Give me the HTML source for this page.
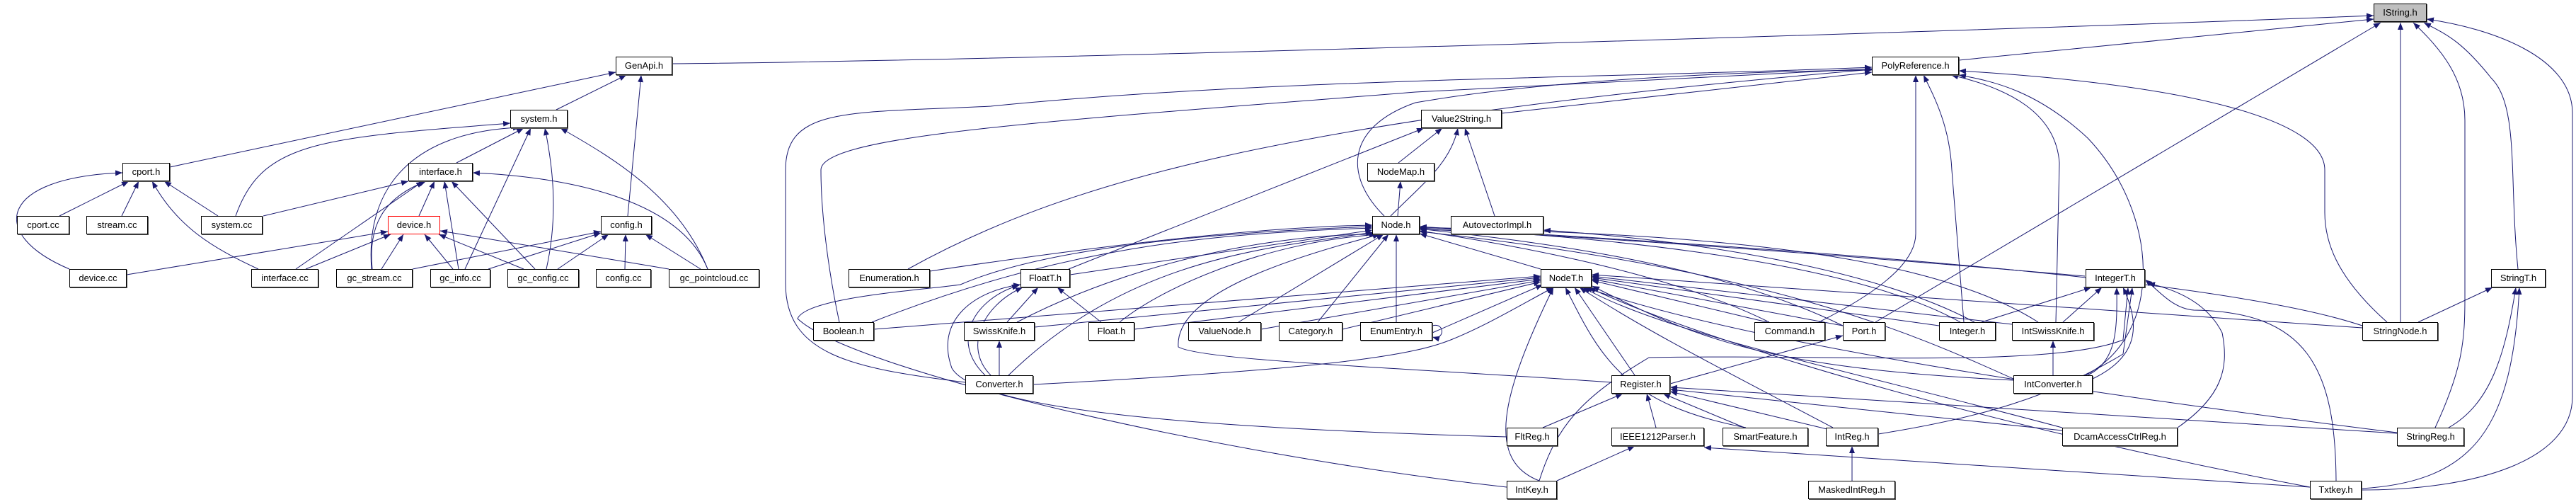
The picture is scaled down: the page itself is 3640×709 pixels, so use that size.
<!DOCTYPE html>
<html><head><meta charset="utf-8"><style>
html,body{margin:0;padding:0;background:#fff;}
#w{position:relative;width:3640px;height:709px;overflow:hidden;background:#fff;}
svg{position:absolute;left:0;top:0;}
.n{position:absolute;height:24px;border:1px solid #000;box-shadow:1px 1px 0 #555;background:#fff;font-family:"Liberation Sans","DejaVu Sans",sans-serif;font-size:13px;line-height:24px;text-align:center;white-space:nowrap;color:#000;}
</style></head><body><div id="w">
<svg width="3640" height="709" viewBox="0 0 3640 709">
<defs><marker id="a" markerUnits="userSpaceOnUse" markerWidth="11" markerHeight="8" refX="10" refY="4" orient="auto"><path d="M0,0 L10,4 L0,8 z" fill="#191970"/></marker></defs>
<g fill="none" stroke="#191970" stroke-width="1" marker-end="url(#a)">
<path d="M950,90 C1500,85 2900,40 3354,22"/>
<path d="M240,236 L870,102"/>
<path d="M786,155 L885,106"/>
<path d="M887,305 L906,106"/>
<path d="M333,305 C370,200 450,195 721,174"/>
<path d="M525,380 C515,250 600,185 735,180"/>
<path d="M645,230 L740,181"/>
<path d="M657,380 L750,181"/>
<path d="M772,380 C790,300 780,230 770,181"/>
<path d="M1000,380 C960,280 870,225 792,181"/>
<path d="M84,305 L182,256"/>
<path d="M172,305 L196,256"/>
<path d="M308,305 L232,256"/>
<path d="M365,380 C300,350 250,320 215,256"/>
<path d="M98,380 C-20,330 0,250 173,244"/>
<path d="M372,305 L577,256"/>
<path d="M418,380 L598,256"/>
<path d="M526,380 C520,320 540,280 602,256"/>
<path d="M592,305 L614,256"/>
<path d="M648,380 L628,256"/>
<path d="M756,380 L638,256"/>
<path d="M1000,380 C960,280 800,250 668,244"/>
<path d="M179,388 L548,327"/>
<path d="M432,380 L552,331"/>
<path d="M539,380 L570,331"/>
<path d="M640,380 L600,331"/>
<path d="M740,380 L620,331"/>
<path d="M945,380 L622,326"/>
<path d="M583,380 L849,327"/>
<path d="M690,380 L849,329"/>
<path d="M788,380 L860,331"/>
<path d="M883,380 L884,331"/>
<path d="M990,380 L912,331"/>
<path d="M2768,85 L3354,27"/>
<path d="M1364,540 C1200,520 1110,500 1110,400 L1110,240 C1110,150 1200,160 1400,150 C1800,110 2300,110 2645,95"/>
<path d="M1186,455 C1170,380 1160,300 1160,240 C1160,190 1500,170 2000,130 L2645,97"/>
<path d="M1283,380 C1500,260 1800,170 2645,98"/>
<path d="M1956,305 C1900,250 1900,180 2000,145 C2200,110 2500,100 2645,99"/>
<path d="M2122,160 L2645,102"/>
<path d="M2570,455 C2680,400 2707,360 2707,330 L2707,106"/>
<path d="M2775,455 L2758,240 C2755,180 2735,140 2718,106"/>
<path d="M2905,455 L2910,230 C2905,160 2840,125 2757,106"/>
<path d="M2947,530 C3060,470 3050,300 2950,195 C2880,130 2820,115 2768,106"/>
<path d="M3373,455 C3300,390 3285,340 3285,300 L3285,240 C3285,170 3100,120 2768,100"/>
<path d="M2650,455 L3364,32"/>
<path d="M1510,380 L2012,181"/>
<path d="M1976,230 L2038,181"/>
<path d="M1965,305 C2010,260 2050,230 2060,181"/>
<path d="M2112,305 L2070,181"/>
<path d="M1975,305 L1979,256"/>
<path d="M1314,383 C1600,340 1800,320 1939,318"/>
<path d="M1232,455 C1500,350 1700,330 1939,322"/>
<path d="M1437,455 C1600,370 1800,330 1945,331"/>
<path d="M1582,455 C1650,400 1800,340 1950,331"/>
<path d="M1512,388 L1939,325"/>
<path d="M1750,455 L1955,331"/>
<path d="M1862,455 L1962,331"/>
<path d="M1973,455 L1973,331"/>
<path d="M1425,530 C1600,360 1800,350 1940,328"/>
<path d="M2177,380 L2006,330"/>
<path d="M2500,455 C2350,380 2100,340 2006,326"/>
<path d="M2604,460 C2400,360 2100,335 2006,323"/>
<path d="M2770,455 C2600,360 2200,330 2006,322"/>
<path d="M2880,455 C2700,340 2300,330 2006,321"/>
<path d="M2946,390 C2600,360 2200,330 2006,324"/>
<path d="M3338,460 C3100,380 2300,340 2006,320"/>
<path d="M2845,535 C2700,470 2500,380 2006,327"/>
<path d="M2277,540 C2000,520 1700,510 1665,490 C1660,420 1800,370 1950,331"/>
<path d="M2129,688 C1700,640 1200,520 1127,450 C1140,420 1300,410 1357,402 C1500,340 1800,325 1939,320"/>
<path d="M2024,460 C2042,455 2042,481 2024,476"/>
<path d="M1423,455 L1467,406"/>
<path d="M1556,455 L1494,406"/>
<path d="M1392,530 C1340,480 1380,420 1440,403"/>
<path d="M1400,530 C1360,490 1390,430 1445,406"/>
<path d="M2129,617 C1700,605 1380,580 1345,520 C1320,450 1380,410 1442,402"/>
<path d="M1412,530 L1412,481"/>
<path d="M1235,465 L2177,390"/>
<path d="M1462,462 L2177,392"/>
<path d="M1603,465 L2177,394"/>
<path d="M1782,465 L2177,396"/>
<path d="M1897,465 L2177,398"/>
<path d="M2024,470 L2180,402"/>
<path d="M1460,543 C1900,520 2000,500 2050,480 C2100,460 2150,430 2195,406"/>
<path d="M2497,455 L2249,396"/>
<path d="M2604,460 L2249,394"/>
<path d="M2740,460 L2249,392"/>
<path d="M2843,458 L2249,390"/>
<path d="M2845,537 C2500,520 2400,480 2250,404"/>
<path d="M3338,463 L2249,388"/>
<path d="M2310,530 L2225,406"/>
<path d="M2467,604 C2290,570 2260,500 2212,406"/>
<path d="M2590,604 C2450,530 2330,470 2232,406"/>
<path d="M2175,679 C2100,650 2120,560 2195,406"/>
<path d="M3387,611 C2900,550 2450,480 2240,406"/>
<path d="M3264,688 C2800,600 2400,480 2245,406"/>
<path d="M2914,604 C2600,520 2350,470 2237,406"/>
<path d="M2800,455 L2955,406"/>
<path d="M2915,455 L2970,406"/>
<path d="M2950,530 C2990,510 2992,470 2991,406"/>
<path d="M2957,535 C3030,500 3020,450 3000,406"/>
<path d="M2175,679 C2200,600 2236,561 2330,505 C2600,500 2900,520 3000,480 L3007,406"/>
<path d="M2654,613 C2800,590 2900,560 3000,500 L3013,406"/>
<path d="M3077,604 C3140,560 3150,520 3140,470 C3120,430 3080,410 3035,400"/>
<path d="M3301,679 C3300,520 3260,440 3100,438 C3070,436 3050,410 3031,395"/>
<path d="M2180,604 L2293,556"/>
<path d="M2340,604 L2327,556"/>
<path d="M2465,604 L2350,556"/>
<path d="M2590,608 L2360,553"/>
<path d="M3387,612 L2360,547"/>
<path d="M2914,608 L2360,550"/>
<path d="M2360,542 L2604,474"/>
<path d="M2200,679 L2310,630"/>
<path d="M3264,688 L2408,632"/>
<path d="M2617,679 L2617,630"/>
<path d="M2901,530 L2901,481"/>
<path d="M3417,455 L3522,406"/>
<path d="M3460,604 C3520,570 3540,500 3555,406"/>
<path d="M3337,690 C3500,680 3550,600 3560,406"/>
<path d="M3558,380 C3545,250 3560,150 3520,110 C3480,60 3460,50 3425,32"/>
<path d="M3392,455 L3392,32"/>
<path d="M3441,604 C3480,520 3483,480 3483,420 L3483,170 C3483,110 3450,70 3410,32"/>
<path d="M3337,692 C3500,692 3635,650 3635,560 L3635,160 C3635,80 3520,40 3429,27"/>
<path d="M2790,455 C2650,380 2400,340 2181,325"/>
</g></svg>
<div class="n" style="left:3354px;top:5px;width:73px;background:#bfbfbf">IString.h</div>
<div class="n" style="left:870px;top:80px;width:78px">GenApi.h</div>
<div class="n" style="left:2645px;top:80px;width:121px">PolyReference.h</div>
<div class="n" style="left:721px;top:155px;width:79px">system.h</div>
<div class="n" style="left:2008px;top:155px;width:112px">Value2String.h</div>
<div class="n" style="left:173px;top:230px;width:65px">cport.h</div>
<div class="n" style="left:577px;top:230px;width:89px">interface.h</div>
<div class="n" style="left:1932px;top:230px;width:93px">NodeMap.h</div>
<div class="n" style="left:24px;top:305px;width:72px">cport.cc</div>
<div class="n" style="left:122px;top:305px;width:85px">stream.cc</div>
<div class="n" style="left:284px;top:305px;width:85px">system.cc</div>
<div class="n" style="left:548px;top:305px;width:72px;border-color:#f00;box-shadow:none">device.h</div>
<div class="n" style="left:849px;top:305px;width:70px">config.h</div>
<div class="n" style="left:1939px;top:305px;width:65px">Node.h</div>
<div class="n" style="left:2050px;top:305px;width:129px">AutovectorImpl.h</div>
<div class="n" style="left:98px;top:380px;width:79px">device.cc</div>
<div class="n" style="left:355px;top:380px;width:93px">interface.cc</div>
<div class="n" style="left:475px;top:380px;width:106px">gc_stream.cc</div>
<div class="n" style="left:608px;top:380px;width:83px">gc_info.cc</div>
<div class="n" style="left:717px;top:380px;width:99px">gc_config.cc</div>
<div class="n" style="left:842px;top:380px;width:76px">config.cc</div>
<div class="n" style="left:945px;top:380px;width:126px">gc_pointcloud.cc</div>
<div class="n" style="left:1199px;top:380px;width:113px">Enumeration.h</div>
<div class="n" style="left:1442px;top:380px;width:68px">FloatT.h</div>
<div class="n" style="left:2177px;top:380px;width:70px">NodeT.h</div>
<div class="n" style="left:2947px;top:380px;width:82px">IntegerT.h</div>
<div class="n" style="left:3520px;top:380px;width:75px">StringT.h</div>
<div class="n" style="left:1149px;top:455px;width:84px">Boolean.h</div>
<div class="n" style="left:1362px;top:455px;width:98px">SwissKnife.h</div>
<div class="n" style="left:1538px;top:455px;width:63px">Float.h</div>
<div class="n" style="left:1679px;top:455px;width:101px">ValueNode.h</div>
<div class="n" style="left:1807px;top:455px;width:88px">Category.h</div>
<div class="n" style="left:1922px;top:455px;width:100px">EnumEntry.h</div>
<div class="n" style="left:2479px;top:455px;width:98px">Command.h</div>
<div class="n" style="left:2604px;top:455px;width:58px">Port.h</div>
<div class="n" style="left:2740px;top:455px;width:78px">Integer.h</div>
<div class="n" style="left:2843px;top:455px;width:114px">IntSwissKnife.h</div>
<div class="n" style="left:3338px;top:455px;width:105px">StringNode.h</div>
<div class="n" style="left:1364px;top:530px;width:94px">Converter.h</div>
<div class="n" style="left:2277px;top:530px;width:81px">Register.h</div>
<div class="n" style="left:2845px;top:530px;width:110px">IntConverter.h</div>
<div class="n" style="left:2129px;top:604px;width:70px">FltReg.h</div>
<div class="n" style="left:2277px;top:604px;width:129px">IEEE1212Parser.h</div>
<div class="n" style="left:2434px;top:604px;width:119px">SmartFeature.h</div>
<div class="n" style="left:2580px;top:604px;width:72px">IntReg.h</div>
<div class="n" style="left:2914px;top:604px;width:161px">DcamAccessCtrlReg.h</div>
<div class="n" style="left:3387px;top:604px;width:93px">StringReg.h</div>
<div class="n" style="left:2129px;top:679px;width:69px">IntKey.h</div>
<div class="n" style="left:2555px;top:679px;width:121px">MaskedIntReg.h</div>
<div class="n" style="left:3264px;top:679px;width:71px">Txtkey.h</div>
</div></body></html>
